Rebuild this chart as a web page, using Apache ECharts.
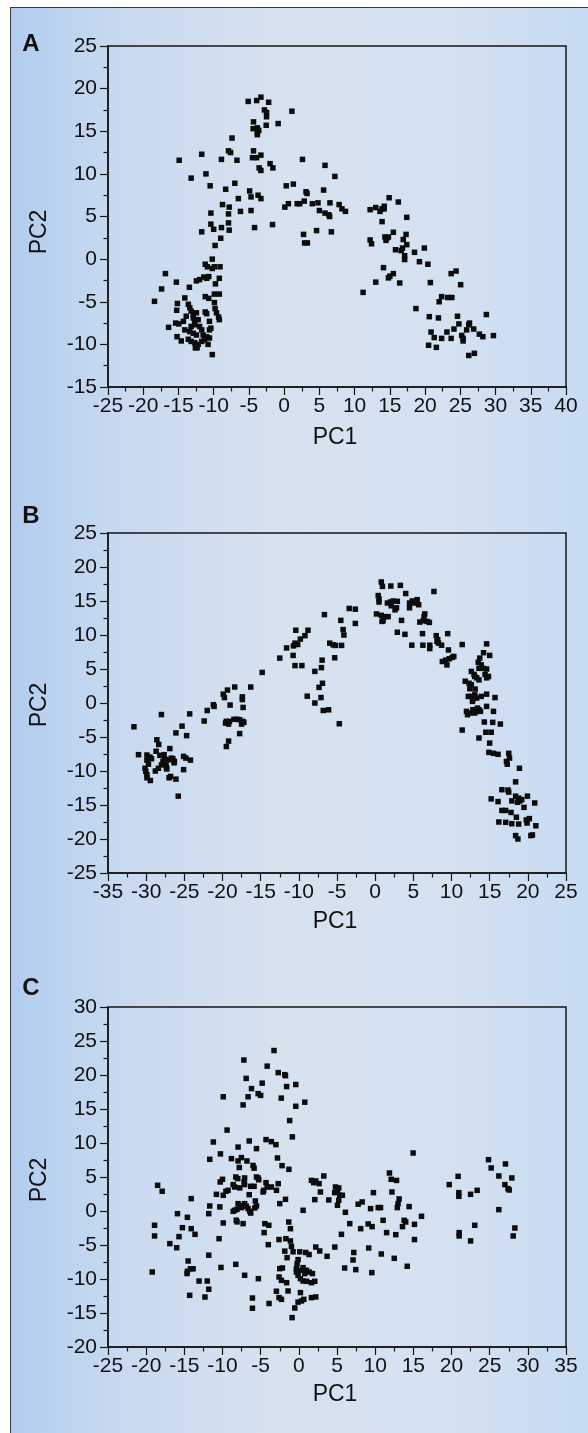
<!DOCTYPE html>
<html>
<head>
<meta charset="utf-8">
<script src="https://cdn.jsdelivr.net/npm/echarts@6/dist/echarts.min.js"></script>
<style>
  html, body { margin: 0; padding: 0; width: 588px; height: 1433px; overflow: hidden; background: #ffffff; }
  #frame { position: absolute; left: 10px; top: 7px; width: 600px; height: 1450px;
           border-left: 1.5px solid #3a3a3a; border-top: 1.5px solid #3a3a3a;
           background: linear-gradient(to right, #b2cdef 0%, #c8daf0 18%, #d7e2ef 45%, #d3e1f1 75%, #c4daf3 100%); }
  #chart { position: absolute; left: 0; top: 0; width: 588px; height: 1433px; }
</style>
</head>
<body>
<div id="frame"></div>
<div id="chart"></div>
<script>
// ---------------- DATA ----------------
const panelLabels = ['A', 'B', 'C'];
const xAxisTitle = 'PC1';
const yAxisTitle = 'PC2';
// axis ranges [min, max, interval]
const xRangeA = [-25, 40, 5], yRangeA = [-15, 25, 5];
const xRangeB = [-35, 25, 5], yRangeB = [-25, 25, 5];
const xRangeC = [-25, 35, 5], yRangeC = [-20, 30, 5];

// Panel A scores [PC1, PC2]
const pointsA = [
[-5.1,18.5],[-3.9,18.6],[-3.3,19.0],[-2.2,18.4],[-2.8,17.5],[-2.5,17.2],[-2.5,16.7],[-4.35,16.1],[-4.4,15.3],[-3.8,15.4],
[-3.6,15.1],[-3.8,14.8],[-3.8,14.6],[-2.55,15.7],[-0.85,15.9],[1.1,17.35],[-7.4,14.2],[-7.9,12.7],[-7.6,12.5],[-8.9,11.7],
[-6.7,11.6],[-4.35,12.7],[-4.5,11.9],[-3.9,11.9],[-3.3,12.2],[-2.0,11.2],[-1.6,10.7],[-3.55,10.7],[-3.3,10.4],[2.6,11.7],
[-14.9,11.6],[-11.7,12.3],[-13.2,9.5],[-11.1,10.0],[-10.5,8.6],[-7.0,8.9],[-8.3,8.2],[-4.9,8.0],[-4.7,7.3],[-3.7,7.5],
[-3.3,7.1],[-6.5,7.1],[-8.75,6.4],[-7.8,6.1],[-7.9,5.3],[-6.2,5.6],[-4.7,5.7],[-10.4,5.4],[-10.4,4.1],[-10.0,3.5],
[-11.7,3.2],[-8.9,3.7],[-7.9,4.25],[-7.8,3.4],[-4.2,3.7],[-1.65,4.05],[-9.0,2.45],[-9.8,1.6],[0.3,8.6],[1.3,8.8],
[0.1,6.1],[0.6,6.5],[1.85,6.5],[2.2,6.5],[2.85,6.8],[3.1,7.9],[2.75,2.9],[2.9,1.9],[3.3,1.9],
[-10.2,0.0],[-11.2,-0.6],[-10.9,-0.9],[-10.2,-1.1],[-9.9,-0.9],[-9.1,-0.9],[-10.7,-2.05],[-11.0,-2.25],[-11.4,-2.1],[-12.0,-2.4],
[-12.45,-2.55],[-9.2,-2.25],[-9.75,-2.9],[-9.9,-4.1],[-9.2,-4.1],[-16.85,-1.7],[-15.3,-2.7],[-17.4,-3.5],[-13.45,-3.3],[-18.4,-4.95],
[-14.1,-4.55],[-15.15,-5.2],[-15.25,-6.0],[-16.4,-8.0],[-15.4,-7.5],[-14.96,-7.6],[-15.2,-9.1],[-14.6,-9.6],[-11.2,-4.4],[-10.7,-4.6],
[-9.9,-5.1],[-9.8,-5.8],[-9.6,-6.3],[-9.3,-6.8],[-9.2,-7.1],[-11.2,-6.2],[-11.0,-6.4],[-10.6,-7.3],[-10.4,-8.1],[-10.2,-11.2],
[-13.6,-5.3],[-13.4,-5.7],[-13.2,-6.1],[-12.9,-6.5],[-12.9,-6.9],[-12.7,-7.3],[-12.7,-7.7],[-14.3,-7.3],[-14.1,-8.3],[-13.4,-8.5],
[-12.9,-8.7],[-12.45,-8.9],[-11.7,-8.3],[-11.5,-8.9],[-11.0,-9.1],[-13.6,-9.4],[-13.2,-9.65],[-12.7,-9.8],[-12.2,-10.0],[-12.6,-10.4],
[-11.7,-9.65],[-11.3,-9.45],[-10.6,-9.25],[-10.6,-8.3],[-12.45,-6.3],[-12.2,-7.1],[-12.0,-7.9],[-13.2,-7.9],[-13.9,-6.7],[-12.35,-10.4],
[-10.8,-10.0],
[5.8,11.0],[7.2,9.7],[3.25,7.7],[5.6,8.1],[4.0,6.5],[4.8,6.6],[5.0,5.7],[5.8,5.4],[6.35,5.2],[6.45,5.0],
[6.5,6.6],[7.8,6.4],[8.2,5.9],[8.7,5.6],[4.6,3.35],[6.7,3.2],[12.2,5.8],[13.0,6.05],[13.6,5.6],[13.9,5.9],
[14.2,5.9],[14.2,6.2],[14.9,7.2],[16.2,6.7],[13.9,4.4],[17.4,4.9],[17.3,2.9],[15.5,3.15],[14.3,2.6],[14.6,2.5],
[14.8,2.6],[14.45,2.2],[12.2,2.25],[12.4,1.8],[16.9,2.3],[17.4,1.7],[15.8,1.1],[16.6,1.0],[16.8,1.3],[17.1,0.4],
[17.1,-0.05],[18.5,0.8],[19.9,1.3],[19.2,-0.3],[20.4,-0.6],[14.1,-1.0],[14.8,-2.2],[15.0,-2.0],[15.5,-1.7],[13.0,-2.7],
[16.4,-2.8],[20.75,-2.75],[11.2,-3.9],[23.7,-1.7],[24.4,-1.4],[25.05,-3.0],[22.35,-4.4],[22.0,-5.0],[23.2,-4.5],[23.8,-4.5],
[18.7,-5.8],[20.6,-6.75],[21.9,-6.9],[24.6,-6.7],[28.7,-6.5],[24.8,-7.6],[26.3,-7.5],[26.2,-7.7],[24.1,-8.2],[25.9,-8.3],
[26.9,-8.2],[23.1,-8.55],[20.85,-8.55],[21.3,-9.2],[22.35,-9.3],[23.7,-9.3],[25.2,-8.95],[25.4,-9.3],[25.4,-9.6],[27.7,-8.8],
[28.2,-9.1],[29.7,-8.97],[20.5,-10.1],[21.6,-10.35],[26.2,-11.3],[27.0,-11.05]
];

// Panel B scores [PC1, PC2]
const pointsB = [
[-31.6,-3.5],[-31.0,-7.6],[-29.9,-7.65],[-29.5,-7.95],[-29.3,-8.2],[-29.9,-8.4],[-29.7,-9.0],[-30.15,-9.6],[-30.05,-10.05],[-29.9,-10.55],
[-29.9,-11.0],[-29.45,-11.4],[-28.8,-10.0],[-28.4,-9.6],[-28.0,-9.1],[-28.6,-5.4],[-28.35,-6.1],[-28.7,-7.1],[-28.2,-7.7],[-27.65,-7.6],
[-27.6,-8.2],[-27.8,-8.6],[-27.4,-9.1],[-27.35,-9.5],[-27.3,-9.7],[-28.0,-1.7],[-26.9,-6.7],[-26.7,-8.1],[-26.3,-8.6],[-27.0,-11.0],
[-26.8,-10.8],[-26.1,-4.4],[-26.1,-11.2],[-25.8,-13.7],[-25.3,-3.4],[-25.1,-7.85],[-25.1,-9.8],[-24.7,-4.8],[-24.8,-8.1],[-24.2,-8.4],
[-24.3,-1.6],[-27.1,-8.35],[-26.5,-8.2],[-26.35,-8.8],
[-22.4,-2.65],[-22.0,-1.1],[-21.2,-0.25],[-21.1,-0.5],[-19.9,1.3],[-19.75,0.8],[-19.35,1.9],[-18.4,2.35],[-19.0,-0.3],[-17.4,0.9],
[-17.4,0.5],[-17.3,-0.65],[-19.5,-2.7],[-19.1,-2.7],[-19.2,-3.1],[-19.6,-2.95],[-18.5,-2.4],[-18.1,-2.4],[-17.75,-2.45],[-17.35,-2.7],
[-17.5,-3.1],[-17.2,-2.85],[-17.75,-4.5],[-19.2,-5.6],[-19.5,-6.4],[-16.3,2.35],[-14.8,4.5],[-12.5,6.6],[-11.6,8.1],[-10.75,7.0],
[-10.5,5.5],[-9.6,5.5],[-10.4,10.7],[-10.7,8.4],[-10.5,8.8],[-10.15,8.6],[-9.8,9.4],[-9.2,9.9],[-8.8,10.7],[-8.9,1.0],
[-6.65,13.0],[-7.9,4.65],[-6.95,6.3],[-7.04,5.2],[-6.9,2.9],[-7.35,2.3],[-7.1,0.8],[-7.9,0.0],[-6.8,-1.1],[-6.1,-1.0],
[-4.7,-3.05],[-5.95,8.8],[-5.5,8.55],[-5.2,8.47],[-5.3,6.65],[-4.4,8.47],[-4.1,10.0],[-4.2,10.8],[-4.5,12.15],[-3.4,13.9],
[-2.6,13.8],[-2.6,11.7],
[0.8,17.8],[0.95,17.15],[2.05,17.2],[3.3,17.3],[4.0,16.1],[7.7,16.4],[0.4,15.8],[0.5,15.3],[0.5,14.85],[0.17,13.1],
[0.8,12.9],[1.04,12.1],[1.26,12.7],[1.7,12.7],[0.9,12.0],[1.6,14.7],[2.0,14.85],[2.35,15.0],[2.9,14.95],[2.1,14.3],
[2.6,13.7],[2.8,14.0],[3.45,12.15],[2.9,10.4],[3.9,10.1],[4.5,14.0],[4.85,15.0],[5.2,14.7],[5.5,15.2],[5.7,14.45],
[5.3,14.9],[4.5,14.7],[4.8,8.5],[6.2,10.2],[6.25,8.5],[5.85,11.9],[6.3,12.1],[6.5,13.1],[6.8,12.0],[7.1,11.85],
[6.4,12.7],[7.15,8.0],[7.15,8.5],[8.0,9.9],[8.2,9.3],[8.3,8.8],[8.7,8.5],[9.5,10.2],[9.6,7.8],[8.8,6.1],
[9.25,6.3],[9.4,5.6],[9.7,6.5],[10.1,6.7],[10.3,6.85],[11.4,8.6],[8.1,9.06],
[14.6,8.7],[14.2,7.4],[15.0,7.0],[13.7,6.6],[13.5,6.0],[13.9,5.6],[13.6,5.1],[14.15,5.1],[14.6,5.0],[14.4,4.2],
[14.85,3.9],[14.6,3.7],[12.6,4.65],[12.95,4.2],[13.3,3.7],[13.6,3.4],[13.05,3.9],[11.8,3.2],[12.3,2.9],[12.6,2.7],
[12.4,2.1],[13.1,2.05],[12.2,0.97],[12.6,0.97],[12.8,0.6],[13.05,1.2],[12.75,0.24],[13.3,0.73],[13.9,0.97],[14.6,1.3],
[15.7,0.8],[11.96,-1.23],[12.4,-1.47],[12.1,-1.72],[12.8,-0.99],[13.3,-1.23],[13.6,-0.99],[13.8,-1.23],[14.6,-0.5],[13.4,-0.75],
[13.05,-1.47],[15.5,-1.23],[14.3,-2.8],[15.4,-2.85],[16.4,-3.1],[11.4,-3.98],[14.5,-4.3],[15.2,-4.3],[13.6,-5.15],[15.0,-5.9],
[14.9,-7.26],[15.5,-7.4],[16.1,-7.55],[17.5,-7.4],[17.6,-8.1],[17.3,-9.0],[17.2,-8.6],[18.9,-9.6],[18.4,-11.6],[16.6,-12.75],
[17.4,-12.8],[17.5,-13.1],[15.2,-14.1],[16.1,-14.5],[17.9,-14.4],[18.4,-13.7],[18.8,-14.0],[18.95,-14.4],[18.65,-14.6],[19.2,-14.2],
[19.95,-13.7],[20.9,-14.7],[19.5,-15.35],[16.6,-15.8],[17.1,-15.8],[17.8,-16.1],[18.5,-16.8],[16.2,-17.5],[17.1,-17.55],[17.9,-17.75],
[18.8,-17.8],[19.8,-17.2],[20.2,-17.0],[19.9,-17.65],[21.05,-18.05],[18.4,-19.5],[18.7,-20.0],[20.4,-19.5],[20.6,-19.4]
];

// Panel C scores [PC1, PC2]
const pointsC = [
[-3.25,23.6],[-7.2,22.2],[-4.15,21.3],[-2.7,20.35],[-1.84,20.05],[-1.75,19.9],[-6.9,19.5],[-4.8,18.8],[-6.2,18.0],[-1.6,18.3],
[-0.4,18.6],[-5.33,17.26],[-5.0,17.0],[-6.65,16.8],[-2.3,16.6],[-9.9,16.8],[-7.3,15.6],[-0.4,15.4],[0.78,16.0],[-1.2,13.3],
[-9.4,11.9],[-0.85,10.9],[-11.2,10.15],[-6.5,10.3],[-4.3,10.5],[-3.6,10.2],[-3.0,9.76],[-7.96,9.4],[-5.55,9.17],[-10.27,8.4],
[-8.83,7.7],[-7.52,7.85],[-7.96,7.36],[-11.67,7.6],[-6.8,7.36],[-7.8,6.4],[-6.0,6.7],[-5.86,6.3],[-2.8,7.8],[-2.2,6.67],
[-1.3,6.13],[-10.0,4.66],[-10.3,4.27],[-8.26,5.0],[-8.0,4.76],[-7.1,4.86],[-7.17,4.27],[-7.1,3.88],[-5.55,5.0],[-5.33,4.86],
[-5.25,4.6],[-8.6,3.88],[-8.4,3.53],[-7.74,3.4],[-6.3,3.63],[-5.86,3.63],[-4.3,4.17],[-4.15,3.53],[-4.6,3.04],[-3.6,3.53],
[-2.93,3.04],[-2.7,4.02],[-10.8,2.45],[-9.9,2.31],[-9.55,2.9],[-9.27,3.04],[-6.5,2.4],[-4.68,2.8],[-5.7,1.47],[-1.75,1.72],
[-11.67,0.74],[-10.35,0.6],[-7.96,1.08],[-7.74,0.84],[-7.52,0.5],[-8.1,0.25],[-8.4,0.1],[-8.6,-0.05],[-7.1,1.08],[-6.87,0.7],
[-6.65,0.35],[-5.77,0.45],[-5.55,0.74],[-6.43,-0.05],[-6.3,-0.3],[-2.5,1.08],[0.56,0.1],[-11.8,-0.39],[-15.9,-0.39],[-14.6,-0.93],
[-14.1,1.82],[-18.5,3.78],[-17.9,2.9],[-18.9,-2.1],[-18.9,-3.67],[-15.25,-2.45],[-15.7,-3.77],[-14.1,-2.6],[-13.6,-3.43],[-16.9,-4.8],
[-16.0,-5.4],[-8.1,-1.6],[-8.2,-1.35],[-7.3,-1.86],[-9.9,-1.76],[-10.45,-4.07],[-4.46,-1.86],[-3.93,-2.1],[-4.55,-3.18],[-4.0,-4.95],
[-11.8,-6.5],[-14.5,-7.35],[-14.6,-8.87],[-14.65,-9.2],[-14.2,-8.5],[-13.85,-8.5],[-19.2,-8.97],[-13.07,-10.3],[-12.0,-10.3],[-11.8,-11.5],
[-14.3,-12.4],[-12.3,-12.65],[-10.2,-8.3],[-8.26,-7.84],[-7.1,-9.45],[-5.3,-9.95],[-6.08,-12.8],[-6.08,-14.3],[-3.9,-13.6],
[-1.32,-1.62],[-1.1,-2.6],[-2.6,-4.2],[-1.7,-4.07],[-1.1,-4.4],[-0.97,-5.2],[-1.84,-5.9],[-0.75,-6.0],[0.12,-6.0],[0.91,-6.1],
[1.34,-6.4],[-1.54,-6.86],[2.22,-5.3],[2.74,-5.88],[-0.1,-7.15],[-0.23,-7.74],[-0.32,-8.48],[-0.32,-8.97],[-0.1,-9.46],[0.21,-9.95],
[0.56,-10.3],[0.56,-8.33],[0.99,-8.72],[1.34,-8.97],[1.78,-9.2],[0.34,-8.72],[0.78,-9.2],[0.99,-10.34],[1.65,-10.54],[2.09,-10.34],
[-2.5,-8.48],[-2.15,-8.38],[-2.59,-9.7],[-2.28,-10.2],[-1.6,-10.54],[-2.94,-11.8],[-1.41,-11.76],[0.21,-12.0],[-2.59,-12.74],[-2.28,-12.99],
[-0.1,-13.4],[0.34,-13.23],[0.65,-12.99],[1.65,-12.74],[2.22,-12.64],[-0.53,-14.26],[-0.88,-15.68],
[14.97,8.53],[12.1,4.66],[12.8,4.5],[12.2,2.8],[13.14,1.77],[12.9,0.5],[13.0,1.08],[14.45,0.65],[13.8,-1.37],[14.0,-1.61],
[13.58,-2.3],[15.15,-1.96],[16.07,-0.78],[15.15,-4.2],[11.5,-3.18],[12.7,-3.48],[11.87,5.59],[9.77,2.7],[10.4,0.5],[10.7,0.5],
[9.4,0.35],[11.04,-1.37],[9.08,-1.9],[9.6,-2.3],[7.77,1.0],[8.3,1.33],[8.1,-2.6],[6.67,-1.86],[6.1,-0.19],[5.58,-3.43],
[5.36,2.31],[5.23,1.57],[5.06,0.84],[5.7,2.31],[4.8,3.53],[5.23,3.39],[5.06,2.9],[4.7,2.7],[3.92,1.62],[2.09,1.67],
[1.65,4.5],[1.95,4.17],[2.22,4.42],[2.65,4.02],[3.27,5.15],[2.83,2.8],[4.71,-5.3],[3.7,-6.66],[7.2,-6.1],[7.1,-7.2],
[7.46,-8.62],[6.0,-8.38],[9.16,-5.44],[9.56,-9.06],[10.8,-6.32],[12.5,-6.96],[14.2,-8.13],
[19.7,3.88],[20.87,5.1],[20.96,2.7],[20.96,2.16],[21.0,-3.18],[21.0,-3.67],[22.5,2.45],[23.36,3.04],[23.05,-2.1],[22.5,-4.4],
[24.85,7.55],[25.2,6.33],[26.2,5.15],[27.07,6.92],[27.9,4.86],[27.0,3.88],[27.4,3.29],[27.56,3.09],[26.2,0.2],[28.3,-2.5],
[28.08,-3.67]
];

// ---------------- CHART ----------------
const chart = echarts.init(document.getElementById('chart'), null, { renderer: 'canvas' });
const ink = '#161616';
const FONT = '"Liberation Sans", Arial, sans-serif';

const grids = [
  { left: 108, top: 46,   width: 458, height: 341 },
  { left: 108, top: 533,  width: 458, height: 340 },
  { left: 108, top: 1007, width: 458, height: 340 }
];
const xr = [xRangeA, xRangeB, xRangeC];
const yr = [yRangeA, yRangeB, yRangeC];
const pts = [pointsA, pointsB, pointsC];

function axisCommon(range, isX) {
  return {
    type: 'value', min: range[0], max: range[1], interval: range[2],
    axisLine: { show: true, onZero: false, lineStyle: { color: ink, width: 1.5 } },
    axisTick: { show: true, inside: false, length: 8, lineStyle: { color: ink, width: 1.2 } },
    minorTick: { show: true, splitNumber: 2, length: 4.5, lineStyle: { color: ink, width: 1.2 } },
    splitLine: { show: false }, minorSplitLine: { show: false },
    axisLabel: { color: '#111', fontSize: 21, fontFamily: FONT, margin: isX ? 9 : 11,
                 showMinLabel: true, showMaxLabel: true, hideOverlap: false }
  };
}

const option = {
  animation: false,
  backgroundColor: 'transparent',
  grid: grids.map(g => Object.assign({ show: true, borderColor: ink, borderWidth: 1.5,
                                       backgroundColor: 'transparent', containLabel: false }, g)),
  xAxis: xr.map((r, i) => Object.assign(axisCommon(r, true), { gridIndex: i, position: 'bottom' })),
  yAxis: yr.map((r, i) => Object.assign(axisCommon(r, false), { gridIndex: i, position: 'left' })),
  series: pts.map((d, i) => ({
    type: 'scatter', xAxisIndex: i, yAxisIndex: i, data: d,
    symbol: 'rect', symbolSize: 5.5, itemStyle: { color: '#0c0c0c', opacity: 1 },
    emphasis: { disabled: true }
  })),
  graphic: []
};

const letterY = [44, 516, 988];
const pc1Y = [438, 922, 1395];
const pc2Y = [232, 705, 1180];
for (let i = 0; i < 3; i++) {
  option.graphic.push({ type: 'text', x: 31, y: letterY[i],
    style: { text: panelLabels[i], font: 'bold 24px ' + FONT, fill: '#111', textAlign: 'center', textVerticalAlign: 'middle' } });
  option.graphic.push({ type: 'text', x: 335, y: pc1Y[i],
    style: { text: xAxisTitle, font: '23px ' + FONT, fill: '#111', textAlign: 'center', textVerticalAlign: 'middle' } });
  option.graphic.push({ type: 'text', x: 40, y: pc2Y[i], rotation: Math.PI / 2,
    style: { text: yAxisTitle, font: '23px ' + FONT, fill: '#111', textAlign: 'center', textVerticalAlign: 'middle' } });
}
chart.setOption(option);
</script>
</body>
</html>
